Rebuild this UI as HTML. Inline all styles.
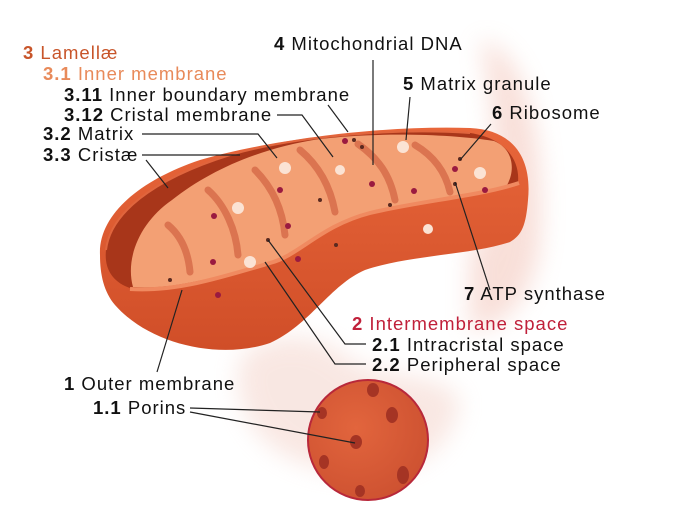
<!DOCTYPE html>
<html><head><meta charset="utf-8"><style>
html,body{margin:0;padding:0;background:#fff;}
svg{display:block;}
text{font-family:"Liberation Sans",sans-serif;font-size:18.5px;letter-spacing:1px;}
</style></head><body>
<svg width="693" height="517" viewBox="0 0 693 517" xmlns="http://www.w3.org/2000/svg">
<defs>
<filter id="bl" x="-30%" y="-30%" width="160%" height="160%"><feGaussianBlur stdDeviation="12"/></filter>
<linearGradient id="og" x1="0" y1="0" x2="0" y2="1">
<stop offset="0" stop-color="#e8663a"/><stop offset="1" stop-color="#d04e28"/></linearGradient>
<radialGradient id="cg" cx="0.4" cy="0.4" r="0.7">
<stop offset="0" stop-color="#e2653d"/><stop offset="1" stop-color="#cc5030"/></radialGradient>
</defs>
<g opacity="0.4" filter="url(#bl)">
<path d="M480,40 C530,50 545,150 540,240 C535,300 500,330 470,330 L470,250 C500,230 500,120 480,40Z" fill="#efb0a0"/>
<path d="M240,360 C260,330 320,330 350,360 C380,380 440,370 460,400 C450,460 400,480 330,470 C270,460 230,420 240,360Z" fill="#f0c4b8"/>
</g>
<path d="M100,255 C98,215 140,180 200,160 C270,140 380,125 470,128 C515,130 532,160 528,200 C526,225 522,235 510,242 C470,255 410,255 365,270 C330,285 310,325 270,343 C220,360 150,345 115,305 C104,292 100,275 100,255Z" fill="url(#og)"/>
<path d="M106,250 C110,215 150,180 230,155 C300,135 400,128 470,133 C505,138 520,160 518,182 C480,195 420,200 370,212 C320,225 300,255 270,262 C220,278 170,292 130,288 C112,282 104,268 106,250Z" fill="#a8361a"/>
<path d="M133,287 C125,258 140,222 172,200 C210,170 260,148 320,139 C380,132 450,134 494,141 C516,150 515,175 505,188 C470,198 420,202 370,214 C320,226 300,255 270,262 C220,276 175,290 133,287Z" fill="#f3a074"/>
<g stroke="#db7450" stroke-width="7" stroke-linecap="round" fill="none">
<path d="M190,272 C188,250 180,235 168,225"/>
<path d="M238,255 C236,230 225,205 208,190"/>
<path d="M285,235 C282,205 270,185 255,170"/>
<path d="M335,212 C330,185 318,165 300,150"/>
<path d="M395,200 C390,175 378,158 358,144"/>
<path d="M450,192 C445,170 432,155 415,145"/>
</g>
<path d="M130,289 C175,292 220,278 270,263 C300,255 320,226 370,213 C420,201 480,196 519,183" fill="none" stroke="#f08a60" stroke-width="4"/>
<path d="M106,250 C110,215 150,180 230,155 C300,135 400,128 470,133" fill="none" stroke="#e0653d" stroke-width="2"/>
<g fill="#fbe3d4"><circle cx="285" cy="168" r="6"/><circle cx="238" cy="208" r="6"/><circle cx="250" cy="262" r="6"/><circle cx="403" cy="147" r="6"/><circle cx="428" cy="229" r="5"/><circle cx="480" cy="173" r="6"/><circle cx="340" cy="170" r="5"/></g>
<g fill="#9a1a40"><circle cx="214" cy="216" r="3"/><circle cx="280" cy="190" r="3"/><circle cx="213" cy="262" r="3"/><circle cx="288" cy="226" r="3"/><circle cx="345" cy="141" r="3"/><circle cx="372" cy="184" r="3"/><circle cx="414" cy="191" r="3"/><circle cx="455" cy="169" r="3"/><circle cx="485" cy="190" r="3"/><circle cx="298" cy="259" r="3"/><circle cx="218" cy="295" r="3"/></g>
<g fill="#5a2a20"><circle cx="170" cy="280" r="2"/><circle cx="268" cy="240" r="2"/><circle cx="320" cy="200" r="2"/><circle cx="354" cy="140" r="2"/><circle cx="362" cy="147" r="2"/><circle cx="336" cy="245" r="2"/><circle cx="390" cy="205" r="2"/><circle cx="455" cy="184" r="2"/><circle cx="460" cy="159" r="2"/></g>
<ellipse cx="368" cy="440" rx="60" ry="60" fill="url(#cg)" stroke="#b8283a" stroke-width="2"/>
<g fill="#a53424"><ellipse cx="373" cy="390" rx="6" ry="7"/><ellipse cx="322" cy="413" rx="5" ry="6"/><ellipse cx="392" cy="415" rx="6" ry="8"/><ellipse cx="356" cy="442" rx="6" ry="7"/><ellipse cx="324" cy="462" rx="5" ry="7"/><ellipse cx="403" cy="475" rx="6" ry="9"/><ellipse cx="360" cy="491" rx="5" ry="6"/></g>
<g stroke="#222" stroke-width="1.2" fill="none">
<path d="M328,105 L348,132"/>
<path d="M277,115 L302,115 L333,157"/>
<path d="M142,134 L258,134 L277,158"/>
<path d="M142,155 L240,155"/>
<path d="M146,160 L168,188"/>
<path d="M373,60 L373,165"/>
<path d="M410,97 L406,140"/>
<path d="M491,124 L460,160"/>
<path d="M455,182 L490,290"/>
<path d="M366,344 L345,344 L268,240"/>
<path d="M366,364 L335,364 L265,262"/>
<path d="M182,290 L157,372"/>
<path d="M190,408 L320,412"/>
<path d="M190,412 L355,443"/>
</g>
<g>
<text x="23" y="59" fill="#c8552a"><tspan font-weight="bold">3</tspan> Lamellæ</text>
<text x="43" y="80" fill="#e88a5a"><tspan font-weight="bold">3.1</tspan> Inner membrane</text>
<text x="64" y="101" fill="#111"><tspan font-weight="bold">3.11</tspan> Inner boundary membrane</text>
<text x="64" y="121" fill="#111"><tspan font-weight="bold">3.12</tspan> Cristal membrane</text>
<text x="43" y="140" fill="#111"><tspan font-weight="bold">3.2</tspan> Matrix</text>
<text x="43" y="161" fill="#111"><tspan font-weight="bold">3.3</tspan> Cristæ</text>
<text x="274" y="50" fill="#111"><tspan font-weight="bold">4</tspan> Mitochondrial DNA</text>
<text x="403" y="90" fill="#111"><tspan font-weight="bold">5</tspan> Matrix granule</text>
<text x="492" y="119" fill="#111"><tspan font-weight="bold">6</tspan> Ribosome</text>
<text x="464" y="300" fill="#111"><tspan font-weight="bold">7</tspan> ATP synthase</text>
<text x="352" y="330" fill="#c0203a"><tspan font-weight="bold">2</tspan> Intermembrane space</text>
<text x="372" y="351" fill="#111"><tspan font-weight="bold">2.1</tspan> Intracristal space</text>
<text x="372" y="371" fill="#111"><tspan font-weight="bold">2.2</tspan> Peripheral space</text>
<text x="64" y="390" fill="#111"><tspan font-weight="bold">1</tspan> Outer membrane</text>
<text x="93" y="414" fill="#111"><tspan font-weight="bold">1.1</tspan> Porins</text>
</g>
</svg>
</body></html>
